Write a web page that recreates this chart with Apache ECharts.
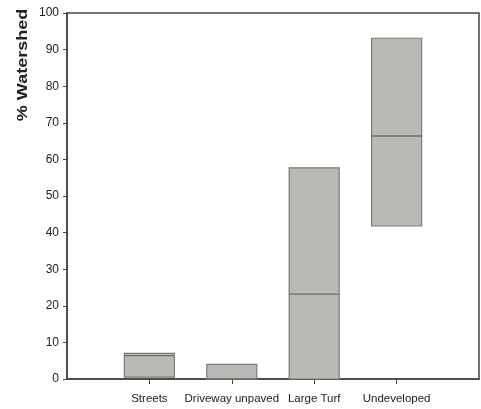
<!DOCTYPE html>
<html>
<head>
<meta charset="utf-8">
<script src="https://cdn.jsdelivr.net/npm/echarts@6/dist/echarts.min.js"></script>
<style>
html,body{margin:0;padding:0;background:#fff;}
#chart{width:481px;height:409px;}
</style>
</head>
<body>
<div id="chart"></div>
<script>
const categories = ['Streets', 'Driveway unpaved', 'Large Turf', 'Undeveloped'];
const lowValues = [0.5, 0, 0, 41.8];
const medianValues = [6.4, 0, 23.2, 66.4];
const highValues = [7.0, 4.0, 57.7, 93.1];
const yTicks = [0, 10, 20, 30, 40, 50, 60, 70, 80, 90, 100];

const data = categories.map((c, i) => [i + 1, lowValues[i], medianValues[i], highValues[i]]);

const chart = echarts.init(document.getElementById('chart'));
chart.setOption({
  animation: false,
  grid: {left: 67, right: 2, top: 13, bottom: 30, show: true, borderColor: '#444', borderWidth: 1.5, backgroundColor: 'transparent'},
  xAxis: {
    type: 'value', min: 0, max: categories.length + 1, interval: 1,
    splitLine: {show: false},
    axisLine: {show: true, lineStyle: {color: '#444', width: 1.5}},
    axisTick: {show: true, customValues: [1, 2, 3, 4], length: 5, lineStyle: {color: '#444'}},
    axisLabel: {customValues: [1, 2, 3, 4], margin: 14, color: '#222', fontSize: 11.5, fontFamily: 'Liberation Sans',
      formatter: v => categories[Math.round(v) - 1] || ''}
  },
  yAxis: {
    type: 'value', min: 0, max: 100, interval: 10,
    splitLine: {show: false},
    axisLine: {show: true, lineStyle: {color: '#444', width: 1.5}},
    axisTick: {show: true, length: 4, lineStyle: {color: '#444'}},
    axisLabel: {margin: 8, color: '#222', fontSize: 12, fontFamily: 'Liberation Sans',
      formatter: v => yTicks.includes(v) ? String(v) : ''}
  },
  graphic: [{
    type: 'text', x: 23, y: 65, rotation: Math.PI / 2, scaleX: 1.2,
    style: {text: '% Watershed', font: 'bold 15px "Liberation Sans"', fill: '#222', align: 'center', verticalAlign: 'middle'}
  }],
  series: [{
    type: 'custom',
    data: data,
    encode: {x: 0, y: [1, 2, 3]},
    renderItem: function (params, api) {
      const x = api.value(0);
      const lo = api.coord([x, api.value(1)]);
      const md = api.coord([x, api.value(2)]);
      const hi = api.coord([x, api.value(3)]);
      const w = 50;
      return {
        type: 'group',
        children: [{
          type: 'rect',
          shape: {x: lo[0] - w / 2, y: hi[1], width: w, height: lo[1] - hi[1]},
          style: {fill: '#b9b9b5', stroke: '#7a7a7a', lineWidth: 1.2}
        }, {
          type: 'line',
          shape: {x1: md[0] - w / 2, y1: md[1], x2: md[0] + w / 2, y2: md[1]},
          style: {stroke: '#6e6e6e', lineWidth: 1.3}
        }]
      };
    }
  }]
});
</script>
</body>
</html>
